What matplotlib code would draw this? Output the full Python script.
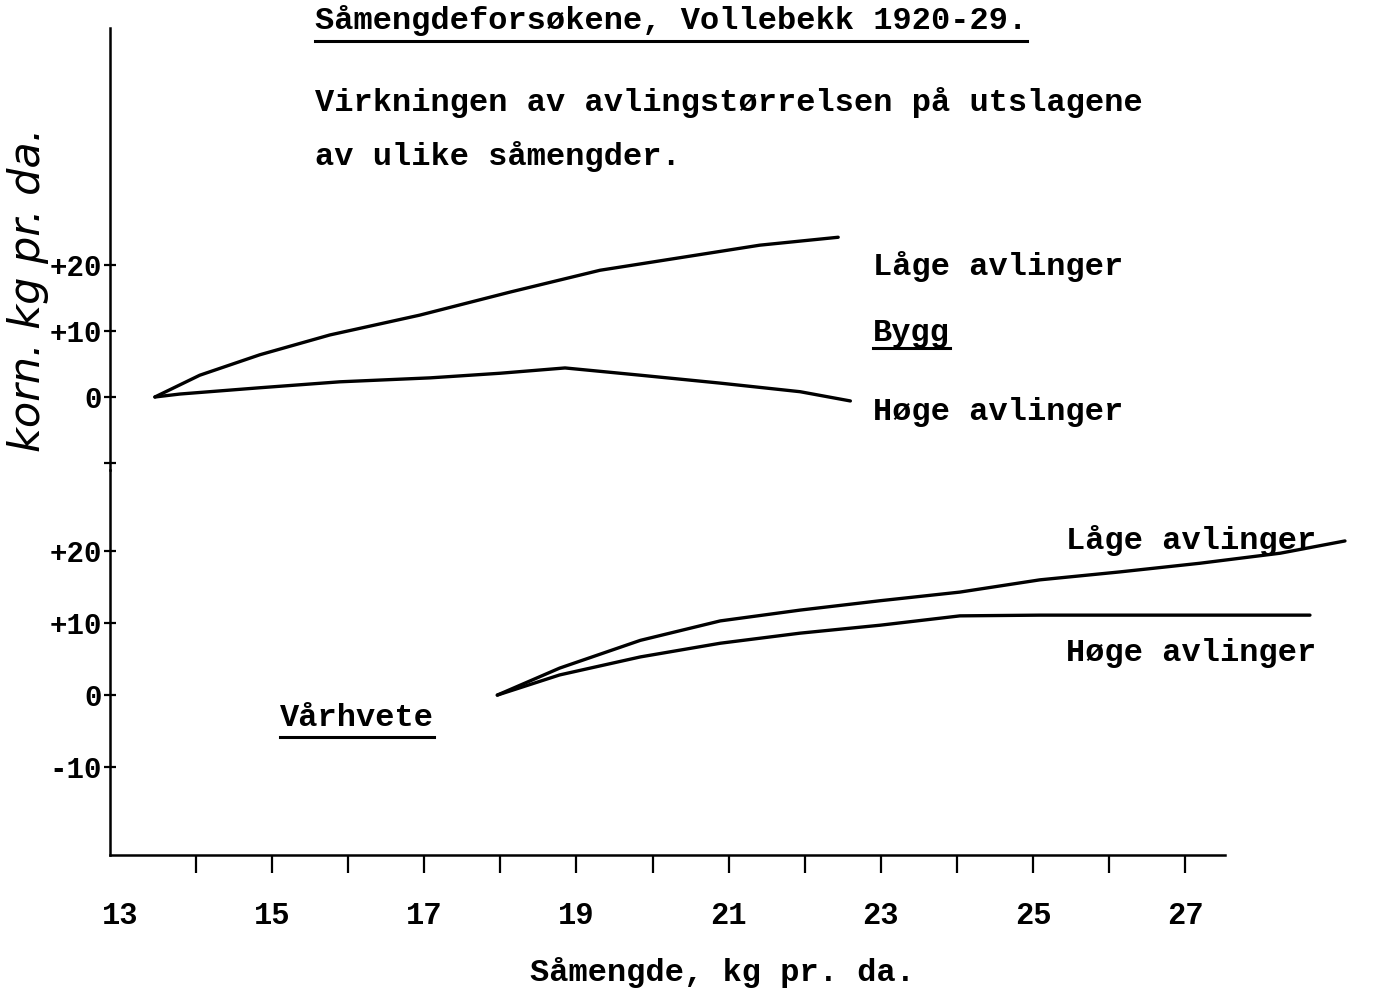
import matplotlib
matplotlib.use("Agg")
import matplotlib.pyplot as plt
from matplotlib.lines import Line2D

# --- data ---
# Bygg (upper panel)
bygg_x = [13.46, 14.05, 14.84, 15.76, 16.94, 18.13, 19.31, 20.36, 21.41, 22.44]
bygg_lage = [0.0, 3.3, 6.4, 9.4, 12.4, 15.9, 19.2, 21.1, 23.0, 24.2]
bygg_hoge_x = [13.46, 13.79, 14.84, 15.89, 17.08, 18.0, 18.85, 19.84, 20.89, 21.94, 22.6]
bygg_hoge = [0.0, 0.45, 1.4, 2.3, 2.9, 3.6, 4.4, 3.3, 2.1, 0.8, -0.6]

# Vårhvete (lower panel)
hvete_lage_x = [17.96, 18.78, 19.84, 20.89, 21.94, 22.99, 24.04, 25.09, 26.14, 27.19, 28.25, 29.1]
hvete_lage = [0.0, 3.75, 7.6, 10.3, 11.8, 13.1, 14.3, 16.0, 17.1, 18.3, 19.7, 21.4]
hvete_hoge_x = [17.96, 18.78, 19.84, 20.89, 21.94, 22.99, 24.04, 25.09, 26.14, 27.19, 28.64]
hvete_hoge = [0.0, 2.8, 5.3, 7.2, 8.6, 9.7, 11.0, 11.1, 11.1, 11.1, 11.1]

x_labels = [13, 15, 17, 19, 21, 23, 25, 27]
x_minor = [14, 16, 18, 20, 22, 24, 26]
upper_ticks = [-10, 0, 10, 20]
upper_labels = ["", "0", "+10", "+20"]
lower_ticks = [-10, 0, 10, 20]
lower_labels = ["-10", "0", "+10", "+20"]

W, H = 1383, 994
MONO = "Liberation Mono"


def rect(l, t, r, b):
    return [l / W, 1 - b / H, (r - l) / W, (b - t) / H]


fig = plt.figure(figsize=(W / 100, H / 100), dpi=100)
fig.patch.set_facecolor("white")

ax_top = fig.add_axes(rect(110, 28, W, 470))
ax_bot = fig.add_axes(rect(110, 470, W, 855))

xlim = (12.87, 29.6)
for ax in (ax_top, ax_bot):
    ax.set_xlim(*xlim)
    ax.patch.set_alpha(0)
    for s in ("top", "right"):
        ax.spines[s].set_visible(False)
    ax.spines["left"].set_linewidth(1.8)
    ax.tick_params(axis="y", direction="inout", length=9, width=1.6, pad=1,
                   labelsize=21)

ax_top.set_ylim(-11.06, 55.9)
ax_top.spines["bottom"].set_visible(False)
ax_top.set_xticks([])
ax_top.set_yticks(upper_ticks)
ax_top.set_yticklabels(upper_labels, fontfamily=MONO, fontweight="bold", fontsize=21)

ax_bot.set_ylim(-22.2, 31.25)
ax_bot.set_yticks(lower_ticks)
ax_bot.set_yticklabels(lower_labels, fontfamily=MONO, fontweight="bold", fontsize=21)
ax_bot.spines["bottom"].set_linewidth(1.8)
ax_bot.spines["bottom"].set_bounds(xlim[0], 27.52)
ax_bot.set_xticks(x_labels)
ax_bot.set_xticklabels([str(v) for v in x_labels], fontfamily=MONO,
                       fontweight="bold", fontsize=22)
ax_bot.set_xticks(x_minor, minor=True)
ax_bot.tick_params(axis="x", which="both", direction="out", length=13, width=1.6, pad=20)
ax_bot.xaxis.get_major_ticks()[0].tick1line.set_visible(False)

lw = 2.4
ax_top.plot(bygg_x, bygg_lage, color="black", lw=lw, solid_capstyle="round")
ax_top.plot(bygg_hoge_x, bygg_hoge, color="black", lw=lw, solid_capstyle="round")
ax_bot.plot(hvete_lage_x, hvete_lage, color="black", lw=lw, solid_capstyle="round")
ax_bot.plot(hvete_hoge_x, hvete_hoge, color="black", lw=lw, solid_capstyle="round")


def put(x, y, s, underline=None, **kw):
    t = fig.text(x / W, 1 - y / H, s, ha="left", va="center", fontfamily=MONO,
                 fontweight="bold", fontsize=23, **kw)
    if underline is not None:
        t._ul = underline
    return t


texts = [
    put(315, 20, "Såmengdeforsøkene, Vollebekk 1920-29.", underline=41),
    put(315, 103, "Virkningen av avlingstørrelsen på utslagene"),
    put(315, 157, "av ulike såmengder."),
    put(873, 266, "Låge avlinger"),
    put(873, 333, "Bygg", underline=348),
    put(873, 412, "Høge avlinger"),
    put(1066, 541, "Låge avlinger"),
    put(1066, 653, "Høge avlinger"),
    put(280, 718, "Vårhvete", underline=737),
    put(530, 972, "Såmengde, kg pr. da."),
]

# handwritten axis label, sits just left of the tick labels
fig.text(28 / W, 1 - 290 / H, "korn. kg pr. da.", rotation=90, ha="center",
         va="center", fontsize=31, style="italic", fontfamily="DejaVu Sans",
         fontweight="light")

# underlines, typed-style
fig.canvas.draw()
r = fig.canvas.get_renderer()
for t in texts:
    if hasattr(t, "_ul"):
        bb = t.get_window_extent(r)
        yl = 1 - t._ul / H
        fig.add_artist(Line2D([bb.x0 / W, bb.x1 / W], [yl, yl], color="black",
                              lw=2.2, transform=fig.transFigure))

fig.savefig("out.png", dpi=100)
